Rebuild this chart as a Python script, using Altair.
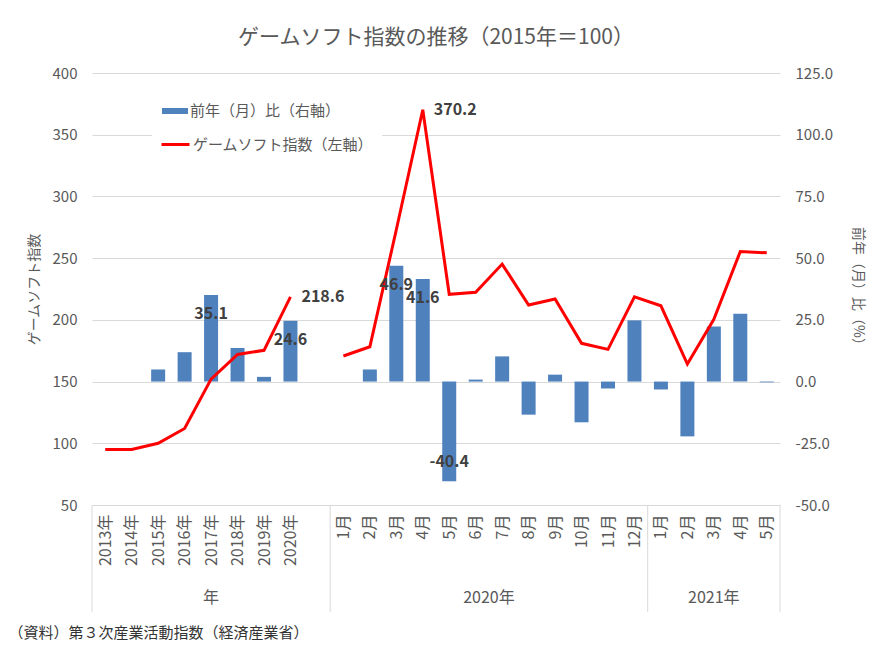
import json
import altair as alt
import pandas as pd

# ---------------- data ----------------
categories = ["2013年", "2014年", "2015年", "2016年", "2017年", "2018年", "2019年", "2020年", "",
              "1月", "2月", "3月", "4月", "5月", "6月", "7月", "8月", "9月", "10月", "11月", "12月",
              "1月", "2月", "3月", "4月", "5月"]
game_index = [95.0, 95.0, 100.0, 112.0, 152.0, 172.0, 175.3, 218.6, None,
              170.7, 178.2, 273.0, 370.2, 220.7, 222.3, 245.2, 212.0, 216.9, 181.0, 176.1, 218.7,
              211.4, 164.2, 200.4, 255.4, 254.3]
yoy = [None, None, 4.9, 11.9, 35.1, 13.6, 1.9, 24.6, None,
       None, 4.9, 46.9, 41.6, -40.4, 0.8, 10.2, -13.4, 2.8, -16.5, -2.8, 24.8,
       -3.2, -22.2, 22.3, 27.5, -0.3]
segments = ["年"] * 9 + ["月"] * 17
bar_label_idx = [4, 7, 11, 12, 13]
line_label_idx = [7, 12]
groups = ["年", "2020年", "2021年"]
group_sizes = [9, 12, 5]

BAR_NAME = "前年（月）比（右軸）"
LINE_NAME = "ゲームソフト指数（左軸）"
TITLE = "ゲームソフト指数の推移（2015年＝100）"
SOURCE = "（資料）第３次産業活動指数（経済産業省）"

FONT = "Noto Sans CJK JP"
GRAY = "#595959"
GRID = "#d9d9d9"
BLUE = "#4F81BD"
RED = "#FF0000"
LABEL = "#404040"

n = len(categories)
df = pd.DataFrame({
    "i": list(range(n)),
    "gi": game_index,
    "yoy": yoy,
    "seg": segments,
})
df["bname"] = BAR_NAME
df["lname"] = LINE_NAME
df["blab"] = [i in bar_label_idx for i in range(n)]
df["llab"] = [i in line_label_idx for i in range(n)]

bounds = []
centers = []
start = 0
for s in group_sizes:
    bounds.append(start - 0.5)
    centers.append(start + (s - 1) / 2)
    start += s
bounds.append(start - 0.5)
grp_df = pd.DataFrame({"i": centers, "name": groups})
sep_df = pd.DataFrame({"i": bounds})

W, H = 688, 432
HYPHEN = "replace(datum.label, '\u2212', '-')"

x_axis = alt.Axis(
    values=list(range(n)),
    labelExpr=json.dumps(categories, ensure_ascii=False) + "[datum.value]",
    labelAngle=270, labelPadding=9, labelOverlap=False, labelFlush=False,
    labelFontSize=16, labelColor=GRAY, labelFont=FONT,
    ticks=False, grid=False, domain=True, domainColor=GRID,
    title=SOURCE, titleX=-84, titleY=127, titleAlign="left", titleAnchor="start",
    titleBaseline="middle", titleFontSize=15, titleFontWeight="normal",
    titleColor="#333333", titleFont=FONT,
)
x_enc = alt.X("i:Q", scale=alt.Scale(domain=[-0.5, n - 0.5], nice=False, zero=False, padding=0),
              axis=x_axis)

bar_scale = alt.Scale(domain=[-50, 125], nice=False, zero=False)
line_scale = alt.Scale(domain=[50, 400], nice=False, zero=False)

base = alt.Chart(df).transform_calculate(
    ytxt="replace(format(datum.yoy, '.1f'), '\u2212', '-')",
    gtxt="format(datum.gi, '.1f')",
)

bars = base.mark_bar(size=14).encode(
    x=x_enc,
    y=alt.Y("yoy:Q", scale=bar_scale, axis=alt.Axis(
        orient="right", values=[-50, -25, 0, 25, 50, 75, 100, 125], format=".1f",
        labelExpr=HYPHEN,
        grid=False, ticks=False, domain=False, labelPadding=15,
        labelFontSize=15, labelColor=GRAY, labelFont=FONT,
        title="前年（月）比（%）", titleFontSize=14, titleColor=GRAY,
        titleFontWeight="normal", titleFont=FONT, titlePadding=18)),
    fill=alt.Fill("bname:N", scale=alt.Scale(domain=[BAR_NAME], range=[BLUE]),
                  legend=alt.Legend(title=None, orient="none", legendX=62, legendY=17,
                                    symbolType="M-1,-0.23H1V0.23H-1Z", symbolSize=676,
                                    symbolStrokeWidth=0, labelOffset=2, labelLimit=400,
                                    labelFontSize=15, labelColor=GRAY, labelFont=FONT,
                                    fillColor="white", padding=8)),
)

line = base.transform_filter("isValid(datum.gi)").mark_line(strokeWidth=3).encode(
    x=x_enc,
    y=alt.Y("gi:Q", scale=line_scale, axis=alt.Axis(
        orient="left", values=[50, 100, 150, 200, 250, 300, 350, 400],
        grid=True, gridColor=GRID, ticks=False, domain=False, labelPadding=15,
        labelFontSize=15, labelColor=GRAY, labelFont=FONT,
        title="ゲームソフト指数", titleFontSize=14, titleColor=GRAY,
        titleFontWeight="normal", titleFont=FONT, titlePadding=11)),
    stroke=alt.Stroke("lname:N", scale=alt.Scale(domain=[LINE_NAME], range=[RED]),
                      legend=alt.Legend(title=None, orient="none", legendX=60, legendY=48,
                                        symbolType="stroke", symbolSize=784,
                                        symbolStrokeWidth=3, labelOffset=2, labelLimit=400,
                                        labelFontSize=15, labelColor=GRAY, labelFont=FONT,
                                        fillColor="white", padding=8)),
    detail="seg:N",
    order="i:Q",
)

lab_style = dict(fontWeight="bold", fontSize=16, color=LABEL, font=FONT, baseline="middle")

bar_lab_pos = base.transform_filter("datum.blab && datum.yoy > 0").mark_text(
    dy=19, align="center", **lab_style).encode(
    x=x_enc, y=alt.Y("yoy:Q", scale=bar_scale, axis=None),
    text="ytxt:N")
bar_lab_neg = base.transform_filter("datum.blab && datum.yoy < 0").mark_text(
    dy=-19, align="center", **lab_style).encode(
    x=x_enc, y=alt.Y("yoy:Q", scale=bar_scale, axis=None),
    text="ytxt:N")
line_lab = base.transform_filter("datum.llab").mark_text(
    dx=11, align="left", **lab_style).encode(
    x=x_enc, y=alt.Y("gi:Q", scale=line_scale, axis=None),
    text="gtxt:N")

seps = alt.Chart(sep_df).mark_rule(color=GRID, strokeWidth=1).encode(
    x=x_enc, y=alt.value(H), y2=alt.value(H + 107))
grp_text = alt.Chart(grp_df).mark_text(fontSize=16, color=GRAY, font=FONT, baseline="middle").encode(
    x=x_enc, y=alt.value(H + 93), text="name:N")

chart = alt.layer(
    bars, line, bar_lab_pos, bar_lab_neg, line_lab, seps, grp_text
).resolve_scale(y="independent").properties(
    width=W, height=H,
    title=alt.Title(TITLE, fontSize=21, font=FONT, color=GRAY, fontWeight="normal",
                    anchor="middle", offset=18),
    autosize=alt.AutoSizeParams(type="none"),
    padding={"left": 84, "top": 65, "right": 100, "bottom": 137},
    background="white",
).configure_view(stroke=None)

chart.save("out.html", embed_options={"renderer": "svg", "actions": False})
